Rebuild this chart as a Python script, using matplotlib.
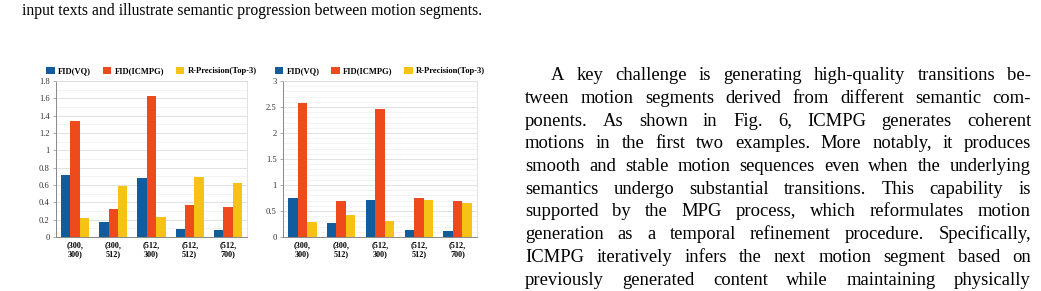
import numpy as np
import matplotlib.pyplot as plt
from matplotlib.ticker import MultipleLocator

W, H = 1041, 291

groups = ['(300,\n300)', '(300,\n512)', '(512,\n300)', '(512,\n512)', '(512,\n700)']
series_names = ['FID(VQ)', 'FID(ICMPG)', 'R-Precision(Top-3)']
colors = ['#105c9c', '#ee4a1c', '#f6c215']

# left chart
left_vq = [0.72, 0.17, 0.68, 0.09, 0.08]
left_icmpg = [1.34, 0.32, 1.63, 0.37, 0.35]
left_rprec = [0.22, 0.59, 0.23, 0.69, 0.62]

# right chart
right_vq = [0.75, 0.26, 0.71, 0.14, 0.12]
right_icmpg = [2.57, 0.70, 2.47, 0.75, 0.70]
right_rprec = [0.29, 0.43, 0.31, 0.72, 0.65]

top_line = "input texts and illustrate semantic progression between motion segments."
para_lines = [
    "A key challenge is generating high-quality transitions be-",
    "tween motion segments derived from different semantic com-",
    "ponents. As shown in Fig. 6, ICMPG generates coherent",
    "motions in the first two examples. More notably, it produces",
    "smooth and stable motion sequences even when the underlying",
    "semantics undergo substantial transitions. This capability is",
    "supported by the MPG process, which reformulates motion",
    "generation as a temporal refinement procedure. Specifically,",
    "ICMPG iteratively infers the next motion segment based on",
    "previously generated content while maintaining physically",
]

serif = 'Liberation Serif'
fig = plt.figure(figsize=(W / 100, H / 100), dpi=100)


def px_axes(x0, x1, ytop, ybot):
    return fig.add_axes([x0 / W, 1 - ybot / H, (x1 - x0) / W, (ybot - ytop) / H])


def bar_chart(ax, vals, ymax, major, minor):
    x = np.arange(len(groups))
    bw = 0.245
    for i, (v, c, name) in enumerate(zip(vals, colors, series_names)):
        ax.bar(x + (i - 1) * bw, v, bw, color=c, label=name, zorder=3)
    ax.set_xlim(-0.5, len(groups) - 0.5)
    ax.set_ylim(0, ymax)
    ax.yaxis.set_major_locator(MultipleLocator(major))
    ax.yaxis.set_minor_locator(MultipleLocator(minor))
    ax.grid(axis='y', which='major', color='#dddddd', lw=0.6, zorder=0)
    ax.grid(axis='y', which='minor', color='#eeeeee', lw=0.5, zorder=0)
    ax.set_xticks(x)
    ax.set_xticklabels(groups, fontfamily=serif, fontweight='bold', fontsize=5.9,
                       linespacing=1.1)
    ax.tick_params(axis='x', length=0, pad=3)
    ax.tick_params(axis='y', which='major', length=2.5, width=0.5, color='#888888',
                   labelsize=6.2, pad=2, labelcolor='#333333')
    ax.tick_params(axis='y', which='minor', length=0)
    for lab in ax.get_yticklabels():
        lab.set_fontfamily(serif)
    ax.yaxis.set_major_formatter(plt.FuncFormatter(lambda v, p: ('%g' % round(v, 2))))
    for s in ['left', 'bottom']:
        ax.spines[s].set_color('#888888')
        ax.spines[s].set_linewidth(0.7)
    for s in ['top', 'right']:
        ax.spines[s].set_color('#dddddd')
        ax.spines[s].set_linewidth(0.6)
    ax.legend(loc='lower center', bbox_to_anchor=(0.5, 1.0), ncol=3, frameon=False,
              prop={'family': serif, 'weight': 'bold', 'size': 6.1},
              handlelength=1.0, handleheight=0.8, handletextpad=0.4,
              columnspacing=1.4, borderaxespad=0.55, borderpad=0.1)


ax1 = px_axes(56, 247, 81, 237)
bar_chart(ax1, [left_vq, left_icmpg, left_rprec], 1.8, 0.2, 0.1)
ax2 = px_axes(283, 477, 81, 237)
bar_chart(ax2, [right_vq, right_icmpg, right_rprec], 3.0, 0.5, 0.1)

# body text, justified word by word
fig.text(22 / W, 1 - 15 / H, top_line, fontfamily=serif, fontsize=11.3, va='baseline')

fs = 13.4
renderer = fig.canvas.get_renderer()
x_left, x_right = 525, 1031
y0, dy = 80, 22.75
for k, line in enumerate(para_lines):
    words = line.split(' ')
    start = x_left + (26 if k == 0 else 0)
    y = 1 - (y0 + k * dy) / H
    texts = [fig.text(0, y, w, fontfamily=serif, fontsize=fs, va='baseline') for w in words]
    widths = [t.get_window_extent(renderer).width for t in texts]
    gap = (x_right - start - sum(widths)) / max(len(words) - 1, 1)
    xp = start
    for t, wd in zip(texts, widths):
        t.set_x(xp / W)
        xp += wd + gap

fig.savefig('out.png', dpi=100)
